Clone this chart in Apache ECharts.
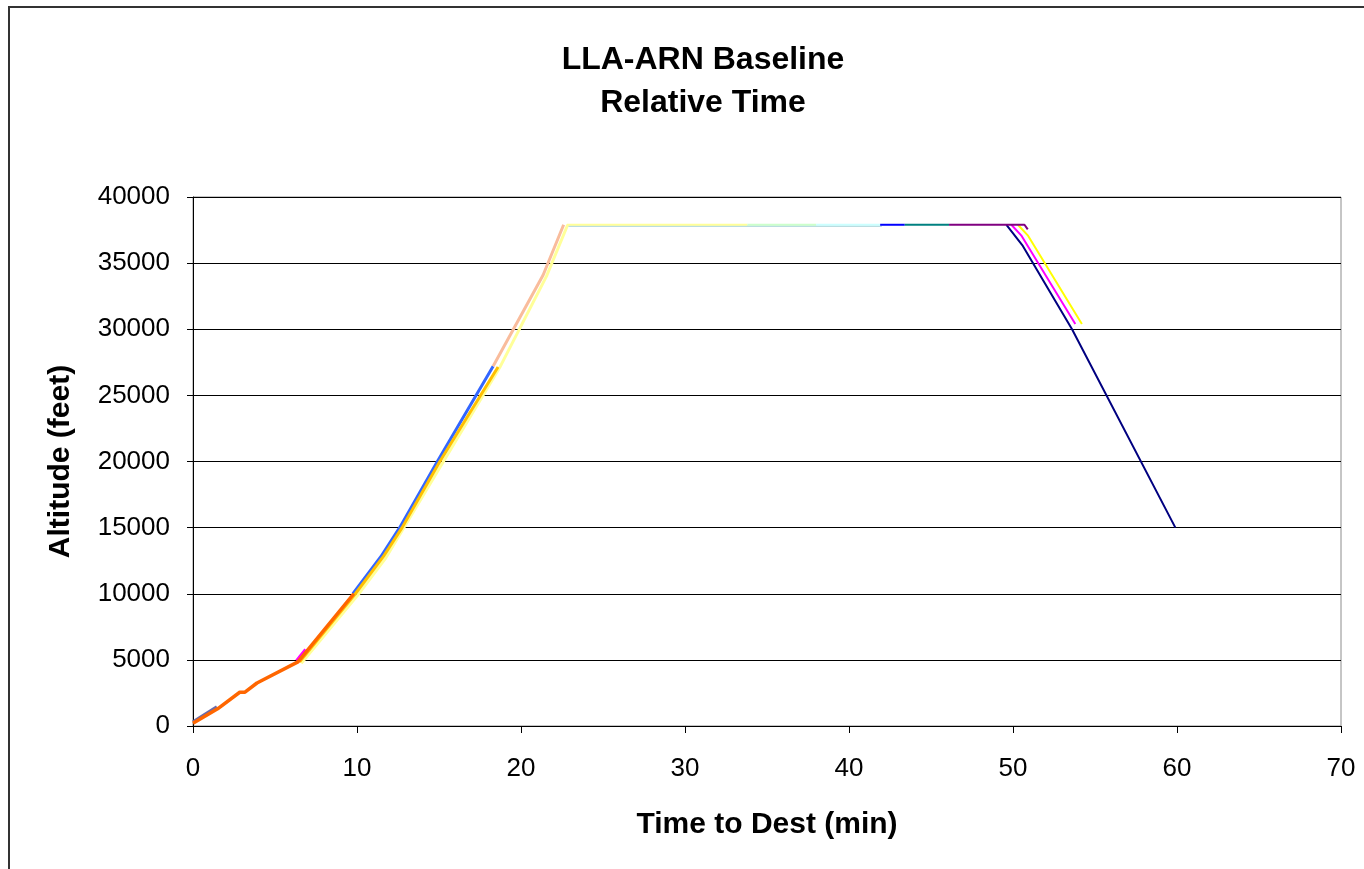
<!DOCTYPE html>
<html>
<head>
<meta charset="utf-8">
<title>LLA-ARN Baseline</title>
<script src="https://cdn.jsdelivr.net/npm/echarts@6/dist/echarts.min.js"></script>
<style>
  html, body { margin: 0; padding: 0; background: #fff; }
  #chart { width: 1364px; height: 869px; }
</style>
</head>
<body>
<div id="chart"></div>
<script>
// Axis ticks
const xTicks = [0, 10, 20, 30, 40, 50, 60, 70];
const yTicks = [0, 5000, 10000, 15000, 20000, 25000, 30000, 35000, 40000];

// Flight segments: [time to dest (min), altitude (feet)]
const climbInitial = [[0, 320], [1.45, 1450]];
const climbOrange = [[0, 200], [1.5, 1300], [2.85, 2550], [3.15, 2550], [3.9, 3250], [6.4, 4850], [9.8, 10000]];
const climbMagenta = [[6.3, 4950], [6.85, 5800]];
const climbPale = [[6.6, 4750], [10.05, 9900], [11.75, 12700], [18.7, 27100], [21.55, 34000], [22.85, 37900]];
const climbBlue = [[9.75, 10000], [11.45, 12800], [12.6, 15000], [14.9, 20000], [18.3, 27200]];
const climbGold = [[6.5, 4850], [9.9, 10000], [11.6, 12800], [12.75, 15000], [15.05, 20000], [18.6, 27150]];
const climbPeach = [[18.3, 27200], [21.35, 34100], [22.6, 37900]];
const cruiseLow = [[22.9, 37800], [42.0, 37800]];
const cruiseYellow = [[22.8, 37900], [33.8, 37900]];
const cruiseMint = [[33.8, 37900], [38.0, 37900]];
const cruiseCyan = [[38.0, 37900], [41.9, 37900]];
const cruiseBlue = [[41.9, 37900], [43.4, 37900]];
const cruiseTeal = [[43.4, 37900], [46.1, 37900]];
const cruisePurple = [[46.1, 37900], [50.7, 37900], [50.9, 37550]];
const descentNavy = [[49.6, 37900], [50.6, 36300], [53.6, 30000], [59.9, 15000]];
const descentMagenta = [[49.9, 37900], [50.5, 37100], [53.8, 30400]];
const descentYellow = [[50.3, 37900], [50.9, 37100], [54.2, 30400]];

const FONT = 'Arial, "Liberation Sans", sans-serif';

function seg(data, color, width) {
  return {
    type: 'line',
    data: data,
    showSymbol: false,
    symbol: 'none',
    lineStyle: { color: color, width: width },
    itemStyle: { color: color },
    silent: true
  };
}

const chart = echarts.init(document.getElementById('chart'), null, { renderer: 'canvas' });

chart.setOption({
  animation: false,
  backgroundColor: '#ffffff',
  title: {
    text: 'LLA-ARN Baseline\nRelative Time',
    left: 698,
    top: 34,
    textAlign: 'center',
    textStyle: { fontFamily: FONT, fontSize: 32, fontWeight: 'bold', color: '#000', lineHeight: 43 }
  },
  graphic: [{
    type: 'rect',
    shape: { x: 9, y: 7, width: 1420, height: 920 },
    style: { fill: 'none', stroke: '#333333', lineWidth: 2 },
    silent: true,
    z: -1
  }],
  grid: {
    left: 193, top: 197, right: 23, bottom: 143,
    show: true, borderColor: '#8c8c8c', borderWidth: 1, backgroundColor: 'transparent'
  },
  xAxis: {
    type: 'value',
    min: xTicks[0], max: xTicks[xTicks.length - 1], interval: 10,
    name: 'Time to Dest (min)',
    nameLocation: 'middle',
    nameGap: 84,
    nameTextStyle: { fontFamily: FONT, fontSize: 30, fontWeight: 'bold', color: '#000' },
    axisLine: { show: true, onZero: false, lineStyle: { color: '#000', width: 1 } },
    axisTick: { show: true, inside: false, length: 7, lineStyle: { color: '#000' } },
    axisLabel: { fontFamily: FONT, fontSize: 26, color: '#000', margin: 30 },
    splitLine: { show: false }
  },
  yAxis: {
    type: 'value',
    min: yTicks[0], max: yTicks[yTicks.length - 1], interval: 5000,
    name: 'Altitude (feet)',
    nameLocation: 'middle',
    nameGap: 117,
    nameRotate: 90,
    nameTextStyle: { fontFamily: FONT, fontSize: 30, fontWeight: 'bold', color: '#000' },
    axisLine: { show: true, lineStyle: { color: '#000', width: 1 } },
    axisTick: { show: true, inside: false, length: 6, lineStyle: { color: '#000' } },
    axisLabel: { fontFamily: FONT, fontSize: 26, color: '#000', margin: 23, formatter: (v) => String(v) },
    splitLine: { show: true, lineStyle: { color: '#000', width: 1 } }
  },
  series: [
    seg(climbPale, '#ffff99', 3),
    seg(climbMagenta, '#ff00ff', 2.5),
    seg(climbInitial, '#6a6aaa', 3),
    seg(climbBlue, '#3366ff', 3),
    seg(climbGold, '#ffc000', 3),
    seg(climbOrange, '#ff6600', 3.5),
    seg(climbPeach, '#f9bc9c', 3),
    seg(cruiseLow, '#8cc4cc', 1),
    seg(cruiseYellow, '#ffff99', 2),
    seg(cruiseMint, '#ccffcc', 2),
    seg(cruiseCyan, '#ccffff', 2),
    seg(descentNavy, '#000080', 2),
    seg(descentMagenta, '#ff00ff', 2),
    seg(descentYellow, '#ffff00', 2),
    seg(cruiseBlue, '#0000ff', 2),
    seg(cruiseTeal, '#008080', 2),
    seg(cruisePurple, '#800080', 2)
  ]
});
</script>
</body>
</html>
